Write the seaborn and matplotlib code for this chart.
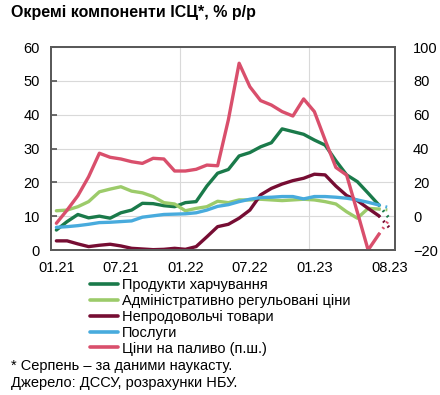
import numpy as np
import pandas as pd
import matplotlib
matplotlib.use('Agg')
import matplotlib.pyplot as plt
import seaborn as sns

sns.set_theme(style='white')
plt.rcParams['font.family'] = ['Liberation Sans', 'DejaVu Sans']
plt.rcParams['text.color'] = 'black'
plt.rcParams['xtick.color'] = 'black'
plt.rcParams['ytick.color'] = 'black'

# ---- дані (% р/р), 01.21 ... 07.23, серпень 2023 — наукаст ----
tick_labels = ['01.21', '07.21', '01.22', '07.22', '01.23', '08.23']

food = [5.9, 8.4, 10.5, 9.5, 10.0, 9.4, 11.0, 11.8, 13.8, 13.7, 13.1, 12.8, 14.0, 14.3, 18.9, 22.7,
        23.8, 27.8, 28.8, 30.5, 31.7, 35.8, 35.0, 34.2, 32.5, 31.0, 26.4, 22.2, 20.2, 16.8, 13.3]
admin = [11.6, 11.8, 12.8, 14.3, 17.2, 18.0, 18.7, 17.4, 16.9, 15.8, 14.0, 13.6, 11.6, 12.3, 12.8, 14.4,
         14.0, 14.8, 14.8, 15.0, 14.8, 14.6, 14.8, 15.0, 14.8, 14.3, 13.6, 11.3, 9.4, 12.3, 12.1]
nonfood = [2.7, 2.7, 1.8, 1.0, 1.4, 1.7, 1.2, 0.5, 0.3, 0.1, 0.2, 0.5, 0.2, 1.0, 3.9, 6.9,
           7.6, 9.4, 11.8, 16.3, 18.2, 19.5, 20.5, 21.2, 22.4, 22.2, 18.9, 16.1, 14.6, 12.3, 10.1]
services = [6.7, 6.9, 7.2, 7.6, 8.1, 8.2, 8.4, 8.6, 9.7, 10.1, 10.5, 10.6, 10.7, 11.0, 11.8, 12.9,
            13.4, 14.3, 15.0, 15.5, 15.6, 15.8, 15.8, 15.1, 15.8, 15.8, 15.6, 15.3, 14.8, 14.1, 13.3]
fuel = [-4.2, 3.6, 12.1, 23.3, 37.2, 34.8, 33.8, 32.2, 31.2, 34.2, 33.8, 26.7, 26.7, 27.7, 30.2, 29.8,
        57.0, 90.4, 76.5, 68.3, 65.7, 61.8, 59.2, 69.3, 61.8, 45.0, 28.8, 24.3, 2.3, -20.0, -10.7]

# серпень (наукаст)
food_aug, admin_aug, nonfood_aug, services_aug, fuel_aug = 9.2, 11.8, 6.5, 12.5, -1.7

labels = ['Продукти харчування', 'Адміністративно регульовані ціни',
          'Непродовольчі товари', 'Послуги', 'Ціни на паливо (п.ш.)']
colors = ['#1a7a4a', '#9ccb6a', '#760d33', '#48abdd', '#d94f6c']

fig = plt.figure(figsize=(4.4, 3.95), dpi=100)
ax = fig.add_axes([51 / 440, 1 - 250 / 395, 344 / 440, 203 / 395])
ax2 = ax.twinx()

x = np.arange(len(food))
x_aug = [len(food) - 1, len(food)]
handles = []
for ser, aug, c, lab, a in zip([food, admin, nonfood, services, fuel],
                               [food_aug, admin_aug, nonfood_aug, services_aug, fuel_aug],
                               colors, labels, [ax, ax, ax, ax, ax2]):
    sns.lineplot(x=x, y=ser, ax=a, color=c, lw=2.4, legend=False)
    sns.lineplot(x=x_aug, y=[ser[-1], aug], ax=a, color=c, lw=2.2,
                 linestyle=(0, (0.6, 1.6)), legend=False)
    handles.append(plt.Line2D([], [], color=c, lw=2.6, label=lab))

ax.set_xlim(-0.5, 31.5)
ax.set_ylim(0, 60)
ax.set_yticks(range(0, 61, 10))
ax2.set_ylim(-20, 100)
ax2.set_yticks(range(-20, 101, 20))
ax.set_xticks([0, 6, 12, 18, 24, 31])
ax.set_xticklabels(tick_labels)
ax.set_xticks([11.5, 23.5], minor=True)

ax.grid(False)
ax2.grid(False)
ax.grid(True, axis='y', color='#d9d9d9', lw=0.8)
ax.grid(True, axis='x', which='minor', color='#d9d9d9', lw=0.8)
ax.set_axisbelow(True)

for a in (ax, ax2):
    for s in a.spines.values():
        s.set_color('#595959')
        s.set_linewidth(1.3)
ax.tick_params(axis='y', direction='in', length=4, color='#595959', labelsize=10.5, pad=8)
ax.tick_params(axis='x', which='major', length=0, labelsize=10.5, pad=8)
ax.tick_params(axis='x', which='minor', direction='in', length=4, color='#595959')
ax2.tick_params(axis='y', direction='in', length=0, labelsize=10.5, pad=13)
ax.set_xlabel('')
ax.set_ylabel('')
ax2.set_ylabel('')

fig.legend(handles=handles, loc='upper left', bbox_to_anchor=(90 / 440, 1 - 278 / 395),
           frameon=False, fontsize=10.5, handlelength=1.9, handletextpad=0.27,
           labelspacing=0.13, borderpad=0, borderaxespad=0)

fig.text(11 / 440, 1 - 12 / 395, 'Окремі компоненти ІСЦ*, % р/р', fontsize=11.5,
         fontweight='bold', va='center', ha='left', color='black')
fig.text(11 / 440, 1 - 366 / 395, '* Серпень – за даними наукасту.', fontsize=10.5, va='center')
fig.text(11 / 440, 1 - 383 / 395, 'Джерело: ДССУ, розрахунки НБУ.', fontsize=10.5, va='center')

fig.savefig('out.png', dpi=100)
